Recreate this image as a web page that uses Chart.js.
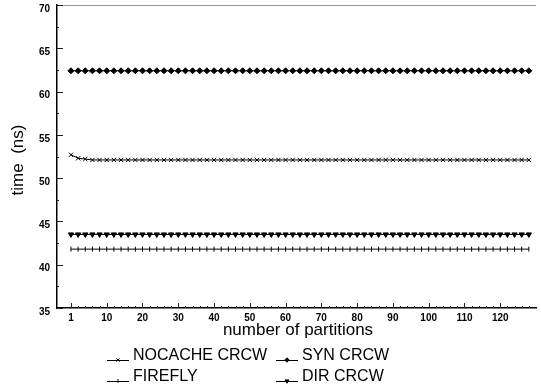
<!DOCTYPE html>
<html lang="en">
<head>
<meta charset="UTF-8">
<title>time vs number of partitions</title>
<script src="https://cdn.jsdelivr.net/npm/chart.js"></script>
<style>
    html, body { margin: 0; padding: 0; background: #fff; }
    #wrap { width: 541px; height: 387px; position: relative; }
</style>
</head>
<body>
<div id="wrap"><canvas id="chart"></canvas></div>
<script>
// partition counts (one point per category)
const partitions = [1, 2, 4, 6, 8, 10, 12, 14, 16, 18, 20, 22, 24, 26, 28, 30, 32, 34, 36, 38, 40,
    42, 44, 46, 48, 50, 52, 54, 56, 58, 60, 62, 64, 66, 68, 70, 72, 74, 76, 78, 80,
    82, 84, 86, 88, 90, 92, 94, 96, 98, 100, 102, 104, 106, 108, 110, 112, 114, 116, 118, 120,
    122, 124, 126, 128];
const xTickLabels = [1, 10, 20, 30, 40, 50, 60, 70, 80, 90, 100, 110, 120];
const yTicks = [35, 40, 45, 50, 55, 60, 65, 70];

const nocache = [52.7, 52.3, 52.2, 52.1, 52.1, 52.1, 52.1, 52.1, 52.1, 52.1, 52.1, 52.1, 52.1, 52.1, 52.1, 52.1, 52.1, 52.1, 52.1, 52.1, 52.1,
    52.1, 52.1, 52.1, 52.1, 52.1, 52.1, 52.1, 52.1, 52.1, 52.1, 52.1, 52.1, 52.1, 52.1, 52.1, 52.1, 52.1, 52.1, 52.1, 52.1,
    52.1, 52.1, 52.1, 52.1, 52.1, 52.1, 52.1, 52.1, 52.1, 52.1, 52.1, 52.1, 52.1, 52.1, 52.1, 52.1, 52.1, 52.1, 52.1, 52.1,
    52.1, 52.1, 52.1, 52.1];
const syn = [62.4, 62.4, 62.4, 62.4, 62.4, 62.4, 62.4, 62.4, 62.4, 62.4, 62.4, 62.4, 62.4, 62.4, 62.4, 62.4, 62.4, 62.4, 62.4, 62.4, 62.4,
    62.4, 62.4, 62.4, 62.4, 62.4, 62.4, 62.4, 62.4, 62.4, 62.4, 62.4, 62.4, 62.4, 62.4, 62.4, 62.4, 62.4, 62.4, 62.4, 62.4,
    62.4, 62.4, 62.4, 62.4, 62.4, 62.4, 62.4, 62.4, 62.4, 62.4, 62.4, 62.4, 62.4, 62.4, 62.4, 62.4, 62.4, 62.4, 62.4, 62.4,
    62.4, 62.4, 62.4, 62.4];
const firefly = [41.8, 41.8, 41.8, 41.8, 41.8, 41.8, 41.8, 41.8, 41.8, 41.8, 41.8, 41.8, 41.8, 41.8, 41.8, 41.8, 41.8, 41.8, 41.8, 41.8, 41.8,
    41.8, 41.8, 41.8, 41.8, 41.8, 41.8, 41.8, 41.8, 41.8, 41.8, 41.8, 41.8, 41.8, 41.8, 41.8, 41.8, 41.8, 41.8, 41.8, 41.8,
    41.8, 41.8, 41.8, 41.8, 41.8, 41.8, 41.8, 41.8, 41.8, 41.8, 41.8, 41.8, 41.8, 41.8, 41.8, 41.8, 41.8, 41.8, 41.8, 41.8,
    41.8, 41.8, 41.8, 41.8];
const dir = [43.5, 43.5, 43.5, 43.5, 43.5, 43.5, 43.5, 43.5, 43.5, 43.5, 43.5, 43.5, 43.5, 43.5, 43.5, 43.5, 43.5, 43.5, 43.5, 43.5, 43.5,
    43.5, 43.5, 43.5, 43.5, 43.5, 43.5, 43.5, 43.5, 43.5, 43.5, 43.5, 43.5, 43.5, 43.5, 43.5, 43.5, 43.5, 43.5, 43.5, 43.5,
    43.5, 43.5, 43.5, 43.5, 43.5, 43.5, 43.5, 43.5, 43.5, 43.5, 43.5, 43.5, 43.5, 43.5, 43.5, 43.5, 43.5, 43.5, 43.5, 43.5,
    43.5, 43.5, 43.5, 43.5];

const FONT = "'Liberation Sans', Arial, sans-serif";

function toPoints(arr) {
    return arr.map((v, i) => ({ x: i, y: v }));
}

// legend slots: [x of sample line, y of baseline]
const legendSlots = [[107, 360], [276, 360], [107, 381], [276, 381]];

const framePlugin = {
    id: 'frame',
    afterDraw(chart) {
        const ctx = chart.ctx;
        const a = chart.chartArea;
        const xs = chart.scales.x, ys = chart.scales.y;
        ctx.save();
        // top frame line
        ctx.strokeStyle = '#999';
        ctx.lineWidth = 1;
        ctx.beginPath();
        ctx.moveTo(a.left, a.top + 0.5);
        ctx.lineTo(a.right, a.top + 0.5);
        ctx.stroke();

        // inward ticks
        ctx.strokeStyle = '#222';
        ctx.lineWidth = 1;
        ctx.beginPath();
        partitions.forEach((p, i) => {
            const px = Math.round(xs.getPixelForValue(i)) + 0.5;
            const len = (i % 5 === 0) ? 5 : 2;
            ctx.moveTo(px, a.bottom);
            ctx.lineTo(px, a.bottom - len);
        });
        for (let v = 35; v <= 70; v += 2.5) {
            const py = Math.round(ys.getPixelForValue(v)) + 0.5;
            const len = (v % 5 === 0) ? 6 : 2;
            ctx.moveTo(a.left, py);
            ctx.lineTo(a.left + len, py);
        }
        ctx.stroke();

        // axis titles
        ctx.fillStyle = '#000';
        ctx.font = '17px ' + FONT;
        ctx.textAlign = 'center';
        ctx.textBaseline = 'middle';
        ctx.fillText('number of partitions', 298, 330);
        ctx.save();
        ctx.translate(18, 160);
        ctx.rotate(-Math.PI / 2);
        ctx.fillText('time  (ns)', 0, 0);
        ctx.restore();

        // legend
        chart.data.datasets.forEach((ds, k) => {
            const [lx, ly] = legendSlots[k];
            ctx.strokeStyle = '#000';
            ctx.lineWidth = 1;
            ctx.beginPath();
            ctx.moveTo(lx, ly + 0.5);
            ctx.lineTo(lx + 22, ly + 0.5);
            ctx.stroke();
            if (Chart.helpers && Chart.helpers.drawPoint) {
                ctx.fillStyle = '#000';
                ctx.strokeStyle = '#000';
                Chart.helpers.drawPoint(ctx, {
                    pointStyle: ds.pointStyle,
                    radius: ds.pointRadius * 0.75,
                    rotation: ds.pointRotation || 0,
                    borderWidth: 1
                }, lx + 11, ly);
            }
            ctx.fillStyle = '#000';
            ctx.font = '16px ' + FONT;
            ctx.textAlign = 'left';
            ctx.textBaseline = 'alphabetic';
            ctx.fillText(ds.label, lx + 26, ly);
        });
        ctx.restore();
    }
};

const common = {
    borderColor: '#000',
    backgroundColor: '#000',
    pointBorderColor: '#000',
    pointBackgroundColor: '#000',
    borderWidth: 1,
    pointBorderWidth: 1,
    fill: false,
    tension: 0
};

new Chart(document.getElementById('chart'), {
    type: 'line',
    data: {
        datasets: [
            Object.assign({ label: 'NOCACHE CRCW', data: toPoints(nocache), pointStyle: 'crossRot', pointRadius: 3 }, common),
            Object.assign({ label: 'SYN CRCW', data: toPoints(syn), pointStyle: 'rectRot', pointRadius: 3 }, common),
            Object.assign({ label: 'FIREFLY', data: toPoints(firefly), pointStyle: 'line', pointRotation: 90, pointRadius: 2.5 }, common),
            Object.assign({ label: 'DIR CRCW', data: toPoints(dir), pointStyle: 'triangle', pointRotation: 180, pointRadius: 3 }, common)
        ]
    },
    options: {
        responsive: true,
        maintainAspectRatio: false,
        animation: false,
        events: [],
        layout: { padding: { left: 0, right: 1, top: 5, bottom: 0 } },
        plugins: {
            legend: { display: false },
            tooltip: { enabled: false }
        },
        scales: {
            x: {
                type: 'linear',
                min: -1.95,
                max: 65,
                afterBuildTicks(scale) {
                    scale.ticks = xTickLabels.map(p => ({ value: partitions.indexOf(p) }));
                },
                afterFit(scale) { scale.height = 79; },
                ticks: {
                    color: '#000',
                    font: { family: FONT, size: 10, weight: 'bold' },
                    padding: 4,
                    maxRotation: 0,
                    autoSkip: false,
                    callback: v => partitions[v]
                },
                grid: { drawOnChartArea: false, drawTicks: false },
                border: { color: '#000', width: 1.5 }
            },
            y: {
                min: 35,
                max: 70,
                afterBuildTicks(scale) {
                    scale.ticks = yTicks.map(v => ({ value: v }));
                },
                afterFit(scale) {
                    scale.width = 57;
                    scale.paddingTop = 0;
                    scale.paddingBottom = 0;
                },
                ticks: {
                    color: '#000',
                    font: { family: FONT, size: 10, weight: 'bold' },
                    padding: 7,
                    labelOffset: 4
                },
                grid: { drawOnChartArea: false, drawTicks: false },
                border: { color: '#000', width: 1.5 }
            }
        }
    },
    plugins: [framePlugin]
});
</script>
</body>
</html>
